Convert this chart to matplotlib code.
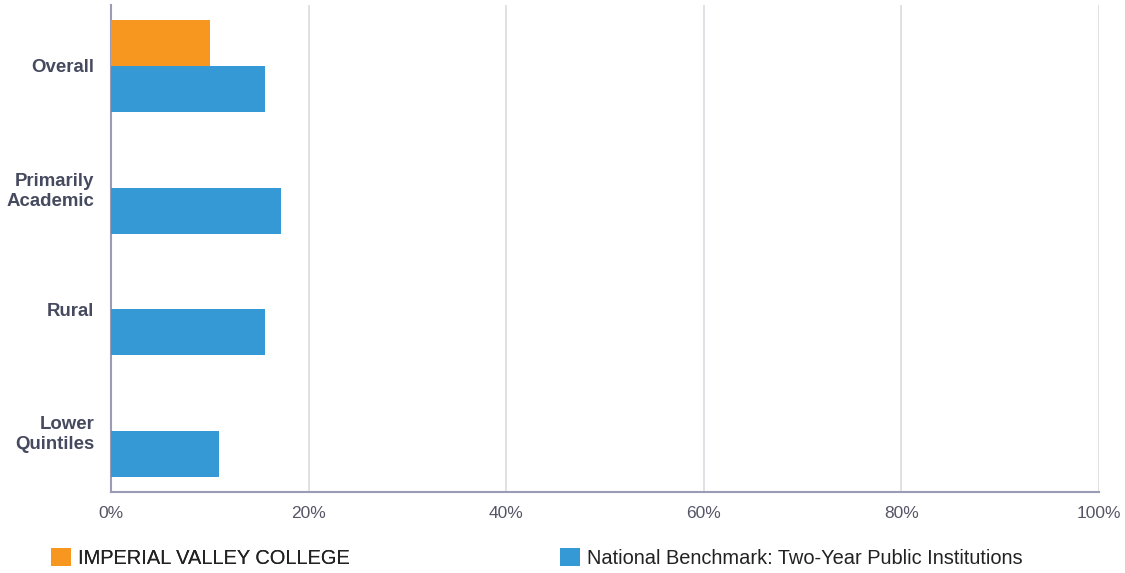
import numpy as np
import matplotlib.pyplot as plt

plt.rcParams['font.family'] = ['Liberation Sans', 'DejaVu Sans']

# data
categories = ['Overall', 'Primarily\nAcademic', 'Rural', 'Lower\nQuintiles']
college = [10.0, np.nan, np.nan, np.nan]
benchmark = [15.6, 17.2, 15.6, 10.9]
college_name = 'IMPERIAL VALLEY COLLEGE'
bench_name = 'National Benchmark: Two-Year Public Institutions'

c_orange = '#F7971F'
c_blue = '#3599D5'

fig = plt.figure(figsize=(11.25, 5.73), dpi=100)
ax = fig.add_axes([111/1125, 1-492/573, (1099-111)/1125, (492-5)/573])

y = np.arange(len(categories))
h = 0.378
b1 = ax.barh(y - h/2, college, height=h, color=c_orange, label=college_name, zorder=3)
b2 = ax.barh(y + h/2, benchmark, height=h, color=c_blue, label=bench_name, zorder=3)

ax.set_xlim(0, 100)
ax.set_ylim(len(categories) - 0.5, -0.5)
ax.set_xticks([0, 20, 40, 60, 80, 100])
ax.set_xticklabels(['0%', '20%', '40%', '60%', '80%', '100%'])
ax.set_yticks(y)
ax.set_yticklabels(categories, fontweight='bold', fontsize=13.4, color='#464a5e',
                   linespacing=1.25)
ax.tick_params(axis='y', length=0, pad=12)
ax.tick_params(axis='x', length=0, pad=10, labelsize=12.5, labelcolor='#555566')
ax.grid(axis='x', color='#dcdce0', linewidth=1.2, zorder=0)
for s in ['top', 'right']:
    ax.spines[s].set_visible(False)
for s in ['left', 'bottom']:
    ax.spines[s].set_color('#9b9bb5')
    ax.spines[s].set_linewidth(1.5)

leg_kw = dict(frameon=False, fontsize=14.4, handlelength=1.0, handleheight=1.0,
              handletextpad=0.35, labelcolor='#222222')
leg1 = fig.legend(handles=[b1], loc='center left', bbox_to_anchor=(33/1125, 1-558/573), **leg_kw)
fig.add_artist(leg1)
fig.legend(handles=[b2], loc='center left', bbox_to_anchor=(542/1125, 1-558/573), **leg_kw)

fig.savefig('out.png', dpi=100)
